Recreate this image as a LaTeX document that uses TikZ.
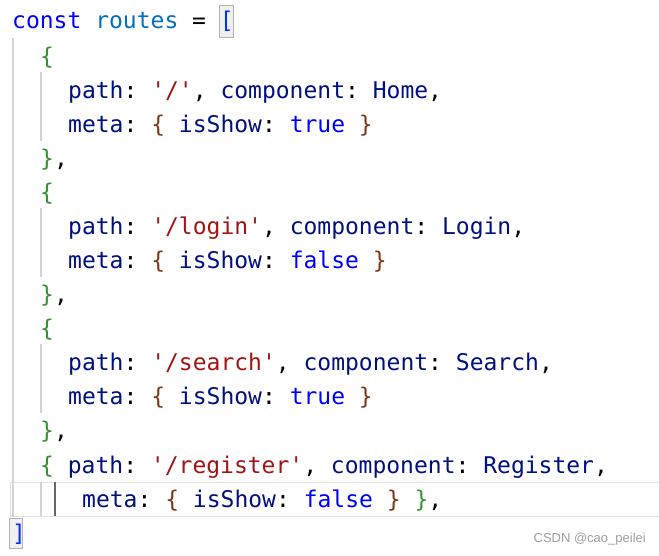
\documentclass[tikz,border=0pt]{standalone}
\usepackage{fontspec}
\setmonofont{DejaVu Sans Mono}
\setsansfont{Liberation Sans}
\definecolor{kw}{HTML}{0000FF}
\definecolor{var}{HTML}{0070C1}
\definecolor{prop}{HTML}{001080}
\definecolor{str}{HTML}{A31515}
\definecolor{brg}{HTML}{319331}
\definecolor{brb}{HTML}{7B3814}
\definecolor{brk}{HTML}{0431FA}
\definecolor{guide}{HTML}{D3D3D3}
\newcommand{\K}[1]{\textcolor{kw}{#1}}
\newcommand{\V}[1]{\textcolor{var}{#1}}
\newcommand{\Pp}[1]{\textcolor{prop}{#1}}
\newcommand{\Ss}[1]{\textcolor{str}{#1}}
\newcommand{\G}[1]{\textcolor{brg}{#1}}
\newcommand{\B}[1]{\textcolor{brb}{#1}}
\begin{document}
\begin{tikzpicture}[x=1pt,y=-1pt,
  code/.style={anchor=base west,inner sep=0pt,font=\ttfamily\fontsize{23}{23}\selectfont},
  guideline/.style={draw=guide,line width=1.3pt}]
\useasboundingbox (0,0) rectangle (659,555);
\fill[white] (0,0) rectangle (659,555);
% current line highlight
\draw[draw=guide!70,line width=1pt] (10,482) rectangle (660,516);
% bracket match boxes
\draw[draw=gray!60,fill=gray!12,line width=0.8pt] (219,5) rectangle (233,37);
\draw[draw=gray!60,fill=gray!12,line width=0.8pt] (9,518) rectangle (22,548);
% indent guides
\draw[guideline] (13,38) -- (13,516);
\draw[guideline] (41,72) -- (41,141);
\draw[guideline] (41,208) -- (41,277);
\draw[guideline] (41,344) -- (41,413);
\draw[guideline] (41,482) -- (41,516);
\draw[draw=gray!80!black,line width=1.3pt] (55,482) -- (55,516);
\def\cw{13.8}
\node[code] (l1) at (12,28) {\K{const} \V{routes} = \textcolor{brk}{[}};
\node[code] (l2) at (40,64) {\G{\{}};
\node[code] (l3) at (68,98) {\Pp{path}: \Ss{'/'}, \Pp{component}: \Pp{Home},};
\node[code] (l4) at (68,132) {\Pp{meta}: \B{\{} \Pp{isShow}: \K{true} \B{\}}};
\node[code] (l5) at (40,166) {\G{\}},};
\node[code] (l6) at (40,200) {\G{\{}};
\node[code] (l7) at (68,234) {\Pp{path}: \Ss{'/login'}, \Pp{component}: \Pp{Login},};
\node[code] (l8) at (68,268) {\Pp{meta}: \B{\{} \Pp{isShow}: \K{false} \B{\}}};
\node[code] (l9) at (40,302) {\G{\}},};
\node[code] (l10) at (40,336) {\G{\{}};
\node[code] (l11) at (68,370) {\Pp{path}: \Ss{'/search'}, \Pp{component}: \Pp{Search},};
\node[code] (l12) at (68,404) {\Pp{meta}: \B{\{} \Pp{isShow}: \K{true} \B{\}}};
\node[code] (l13) at (40,438) {\G{\}},};
\node[code] (l14) at (40,473) {\G{\{} \Pp{path}: \Ss{'/register'}, \Pp{component}: \Pp{Register},};
\node[code] (l15) at (82,507) {\Pp{meta}: \B{\{} \Pp{isShow}: \K{false} \B{\}} \G{\}},};
\node[code] (l16) at (12,541) {\textcolor{brk}{]}};
\node[anchor=base east,inner sep=0pt,font=\sffamily\fontsize{13}{13}\selectfont,text=gray!75] (wm) at (646,542) {CSDN @cao\_peilei};
\end{tikzpicture}
\end{document}
